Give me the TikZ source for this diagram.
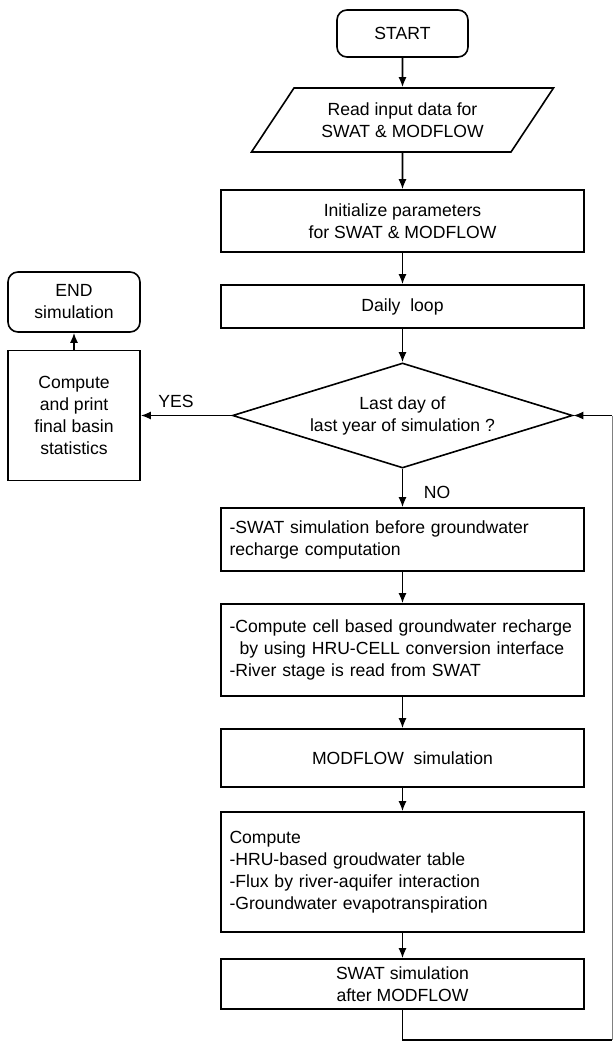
\documentclass[tikz,border=0pt]{standalone}
\usepackage{fontspec}
\setmainfont{Liberation Sans}
\usetikzlibrary{shapes.geometric,arrows.meta}
\begin{document}
\begin{tikzpicture}[x=.5pt,y=-.5pt,line width=.8pt,>={Latex[length=5pt,width=4pt]},
	font=\fontsize{8.8}{11}\selectfont,
	box/.style={draw,rectangle,minimum width=181.5pt,align=center,inner sep=1pt},
	lbox/.style={box,align=left,text width=173pt,inner xsep=4.25pt},
	term/.style={draw,rectangle,rounded corners=5pt,align=center,inner sep=1pt},
	para/.style={draw,trapezium,trapezium left angle=39.4,trapezium right angle=140.6,
		trapezium stretches body,minimum width=151pt,minimum height=32pt,align=center,inner sep=0pt},
	dec/.style={draw,diamond,aspect=3.2,minimum width=170pt,minimum height=52.5pt,align=center,inner sep=0pt}]
	\useasboundingbox (0,0) rectangle (614,1043);
	\path
	(402.5,33.5) node[term,minimum width=65.5pt,minimum height=23.5pt] (start) {START} % <<< main column
	(402.5,120) node[para] (read) {Read input data for\\SWAT \& MODFLOW}
	(402.5,221) node[box,minimum height=31pt] (init) {Initialize parameters\\for SWAT \& MODFLOW}
	(402.5,306.5) node[box,minimum height=21.5pt] (daily) {Daily\ \ loop}
	(402.5,415.5) node[dec] (last) {Last day of\\last year of simulation ?}
	(402.5,539.5) node[lbox,minimum height=31.5pt] (before) {-SWAT simulation before groundwater\\recharge computation}
	(402.5,650) node[lbox,minimum height=46pt] (cell) {-Compute cell based groundwater recharge\\\hspace*{5pt}by using HRU-CELL conversion interface\\-River stage is read from SWAT}
	(402.5,758) node[box,minimum height=29pt] (modflow) {MODFLOW\ \ simulation}
	(402.5,872) node[lbox,minimum height=60pt] (hru) {Compute\\-HRU-based groudwater table\\-Flux by river-aquifer interaction\\-Groundwater evapotranspiration}
	(402.5,984) node[box,minimum height=25pt] (after) {SWAT simulation\\after MODFLOW}
	(74,302) node[term,minimum width=66pt,minimum height=30pt] (end) {END\\simulation} % <<< left column
	(74,415.5) node[box,minimum width=66pt,minimum height=65pt] (final) {Compute\\and print\\final basin\\statistics}
	(176,401) node (yes) {YES}
	(437,492) node (no) {NO}
	;
	\coordinate (c1) at (402.5,1040);
	\coordinate (c2) at (612,1040);
	\coordinate (c3) at (612,415.5);
	\draw[->] (start)--(read);
	\draw[->] (read)--(init);
	\draw[->] (init)--(daily);
	\draw[->] (daily)--(last);
	\draw[->] (last)--(before);
	\draw[->] (before)--(cell);
	\draw[->] (cell)--(modflow);
	\draw[->] (modflow)--(hru);
	\draw[->] (hru)--(after);
	\draw[->] (last.west)--(final.east);
	\draw[->] (final)--(end);
	\draw (after)--(c1)--(c2);
	\draw[gray,line width=.5pt] (c2)--(c3);
	\draw[->] (c3)--(last.east);
\end{tikzpicture}
\end{document}
